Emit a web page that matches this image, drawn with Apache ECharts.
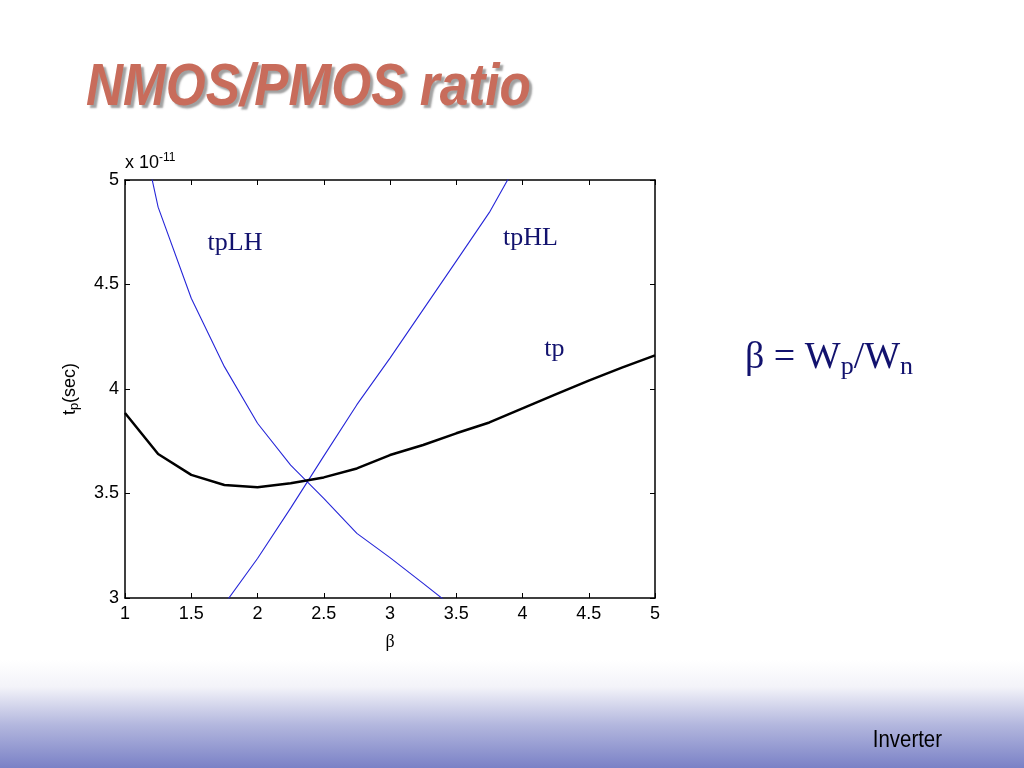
<!DOCTYPE html>
<html>
<head>
<meta charset="utf-8">
<script src="https://cdn.jsdelivr.net/npm/echarts@6/dist/echarts.min.js"></script>
<style>
html,body{margin:0;padding:0;background:#fff;}
#main{width:1024px;height:768px;}
</style>
</head>
<body>
<div id="main"></div>
<script>
// ---- data ----
const beta = [1, 1.25, 1.5, 1.75, 2, 2.25, 2.5, 2.75, 3, 3.25, 3.5, 3.75, 4, 4.25, 4.5, 4.75, 5];
const tp   = [3.885, 3.689, 3.589, 3.541, 3.530, 3.549, 3.577, 3.620, 3.684, 3.732, 3.788, 3.840, 3.907, 3.974, 4.040, 4.102, 4.161];
const tpLH = [5.60, 4.87, 4.434, 4.107, 3.836, 3.636, 3.477, 3.309, 3.193, 3.070, 2.945, null, null, null, null, null, null];
const tpHL = [null, null, null, 2.97, 3.189, 3.430, 3.679, 3.925, 4.148, 4.380, 4.612, 4.845, 5.127, null, null, null, null];
const xTicks = {min: 1, max: 5, interval: 0.5};
const yTicks = {min: 3, max: 5, interval: 0.5};
const curveLabels = [
  {name: 'tpLH', value: [1.83, 4.70]},
  {name: 'tpHL', value: [4.06, 4.72]},
  {name: 'tp',   value: [4.24, 4.19]}
];
const titleText = 'NMOS/PMOS ratio';
const footerText = 'Inverter';

const pairs = (ys) => beta.map((b, i) => [b, ys[i]]);

const G = {left: 125, top: 180, right: 369, bottom: 170};
const tickFont = {fontFamily: 'Liberation Sans, Arial, sans-serif', fontSize: 18, color: '#000'};
const navy = '#12126e';

const chart = echarts.init(document.getElementById('main'), null, {renderer: 'canvas'});
const hiddenAxis = (pos, ticks) => ({
  type: 'value', position: pos, min: ticks.min, max: ticks.max, interval: ticks.interval,
  axisLine: {show: true, lineStyle: {color: '#000', width: 1.5}},
  axisTick: {show: true, inside: true, length: 5, lineStyle: {color: '#000', width: 1}},
  axisLabel: {show: false}, splitLine: {show: false}
});
chart.setOption({
  backgroundColor: '#fff',
  animation: false,
  grid: {left: G.left, top: G.top, right: G.right, bottom: G.bottom, containLabel: false},
  xAxis: [
    {
      type: 'value', position: 'bottom', min: xTicks.min, max: xTicks.max, interval: xTicks.interval,
      axisLine: {show: true, onZero: false, lineStyle: {color: '#000', width: 1.5}},
      axisTick: {show: true, inside: true, length: 5, lineStyle: {color: '#000', width: 1}},
      axisLabel: Object.assign({margin: 7}, tickFont),
      splitLine: {show: false},
      name: 'β', nameLocation: 'middle', nameGap: 35,
      nameTextStyle: {fontFamily: 'Liberation Serif, serif', fontSize: 18, color: '#000'}
    },
    hiddenAxis('top', xTicks)
  ],
  yAxis: [
    {
      type: 'value', position: 'left', min: yTicks.min, max: yTicks.max, interval: yTicks.interval,
      axisLine: {show: true, onZero: false, lineStyle: {color: '#000', width: 1.5}},
      axisTick: {show: true, inside: true, length: 5, lineStyle: {color: '#000', width: 1}},
      axisLabel: Object.assign({margin: 6}, tickFont),
      splitLine: {show: false},
      name: '{a|t}{s|p}{a|(sec)}', nameLocation: 'middle', nameGap: 44,
      nameTextStyle: {
        rich: {
          a: {fontFamily: 'Liberation Sans, Arial, sans-serif', fontSize: 18, color: '#000'},
          s: {fontFamily: 'Liberation Sans, Arial, sans-serif', fontSize: 13, color: '#000', verticalAlign: 'bottom', padding: [9, 0, 0, 0]}
        }
      }
    },
    hiddenAxis('right', yTicks)
  ],
  series: [
    {type: 'line', name: 'tpLH', data: pairs(tpLH), showSymbol: false, symbol: 'none', clip: true,
      lineStyle: {color: '#2626d8', width: 1.1}, connectNulls: false, z: 2},
    {type: 'line', name: 'tpHL', data: pairs(tpHL), showSymbol: false, symbol: 'none', clip: true,
      lineStyle: {color: '#2626d8', width: 1.1}, connectNulls: false, z: 2},
    {type: 'line', name: 'tp', data: pairs(tp), showSymbol: false, symbol: 'none', clip: true,
      lineStyle: {color: '#000', width: 2.5}, z: 3},
    {type: 'scatter', data: curveLabels, symbolSize: 0, silent: true, z: 4,
      itemStyle: {color: navy, opacity: 1},
      label: {show: true, position: 'inside', formatter: (p) => p.name,
        fontFamily: 'Liberation Serif, Times New Roman, serif', fontSize: 26, color: navy,
        textBorderWidth: 0, textBorderColor: 'transparent', opacity: 1}}
  ],
  graphic: [
    {type: 'rect', left: 0, top: 660, z: -10, silent: true,
      shape: {x: 0, y: 0, width: 1024, height: 108},
      style: {fill: new echarts.graphic.LinearGradient(0, 0, 0, 1, [
        {offset: 0, color: '#ffffff'},
        {offset: 0.25, color: '#f3f3f9'},
        {offset: 0.6, color: '#b3b7de'},
        {offset: 1, color: '#7a81c6'}
      ])}},
    {type: 'text', x: 86, y: 89, scaleX: 0.87, z: 10,
      style: {text: titleText, textAlign: 'left', textVerticalAlign: 'middle',
        font: 'italic bold 59px "Liberation Sans", Arial, sans-serif', fill: '#c86c5b',
        textShadowColor: 'rgba(120,120,120,0.7)', textShadowOffsetX: 3, textShadowOffsetY: 3, textShadowBlur: 2}},
    {type: 'text', x: 125, y: 163, z: 10,
      style: {text: '{a|x 10}{s|-11}', textVerticalAlign: 'middle',
        rich: {
          a: {fontFamily: 'Liberation Sans, Arial, sans-serif', fontSize: 18, fill: '#000'},
          s: {fontFamily: 'Liberation Sans, Arial, sans-serif', fontSize: 12, fill: '#000', verticalAlign: 'top', padding: [0, 0, 10, 0]}
        }}},
    {type: 'text', x: 745, y: 358, z: 10,
      style: {text: '{a|β = W}{s|p}{a|/W}{s|n}', textVerticalAlign: 'middle',
        rich: {
          a: {fontFamily: 'Liberation Serif, Times New Roman, serif', fontSize: 38, fill: navy},
          s: {fontFamily: 'Liberation Serif, Times New Roman, serif', fontSize: 26, fill: navy, verticalAlign: 'bottom', padding: [18, 0, 0, 0]}
        }}},
    {type: 'text', x: 942, y: 740, scaleX: 0.85, originX: 0, originY: 0, z: 10,
      style: {text: footerText, textAlign: 'right', textVerticalAlign: 'middle',
        font: '24px "Liberation Sans", Arial, sans-serif', fill: '#000'}}
  ]
});
</script>
</body>
</html>
